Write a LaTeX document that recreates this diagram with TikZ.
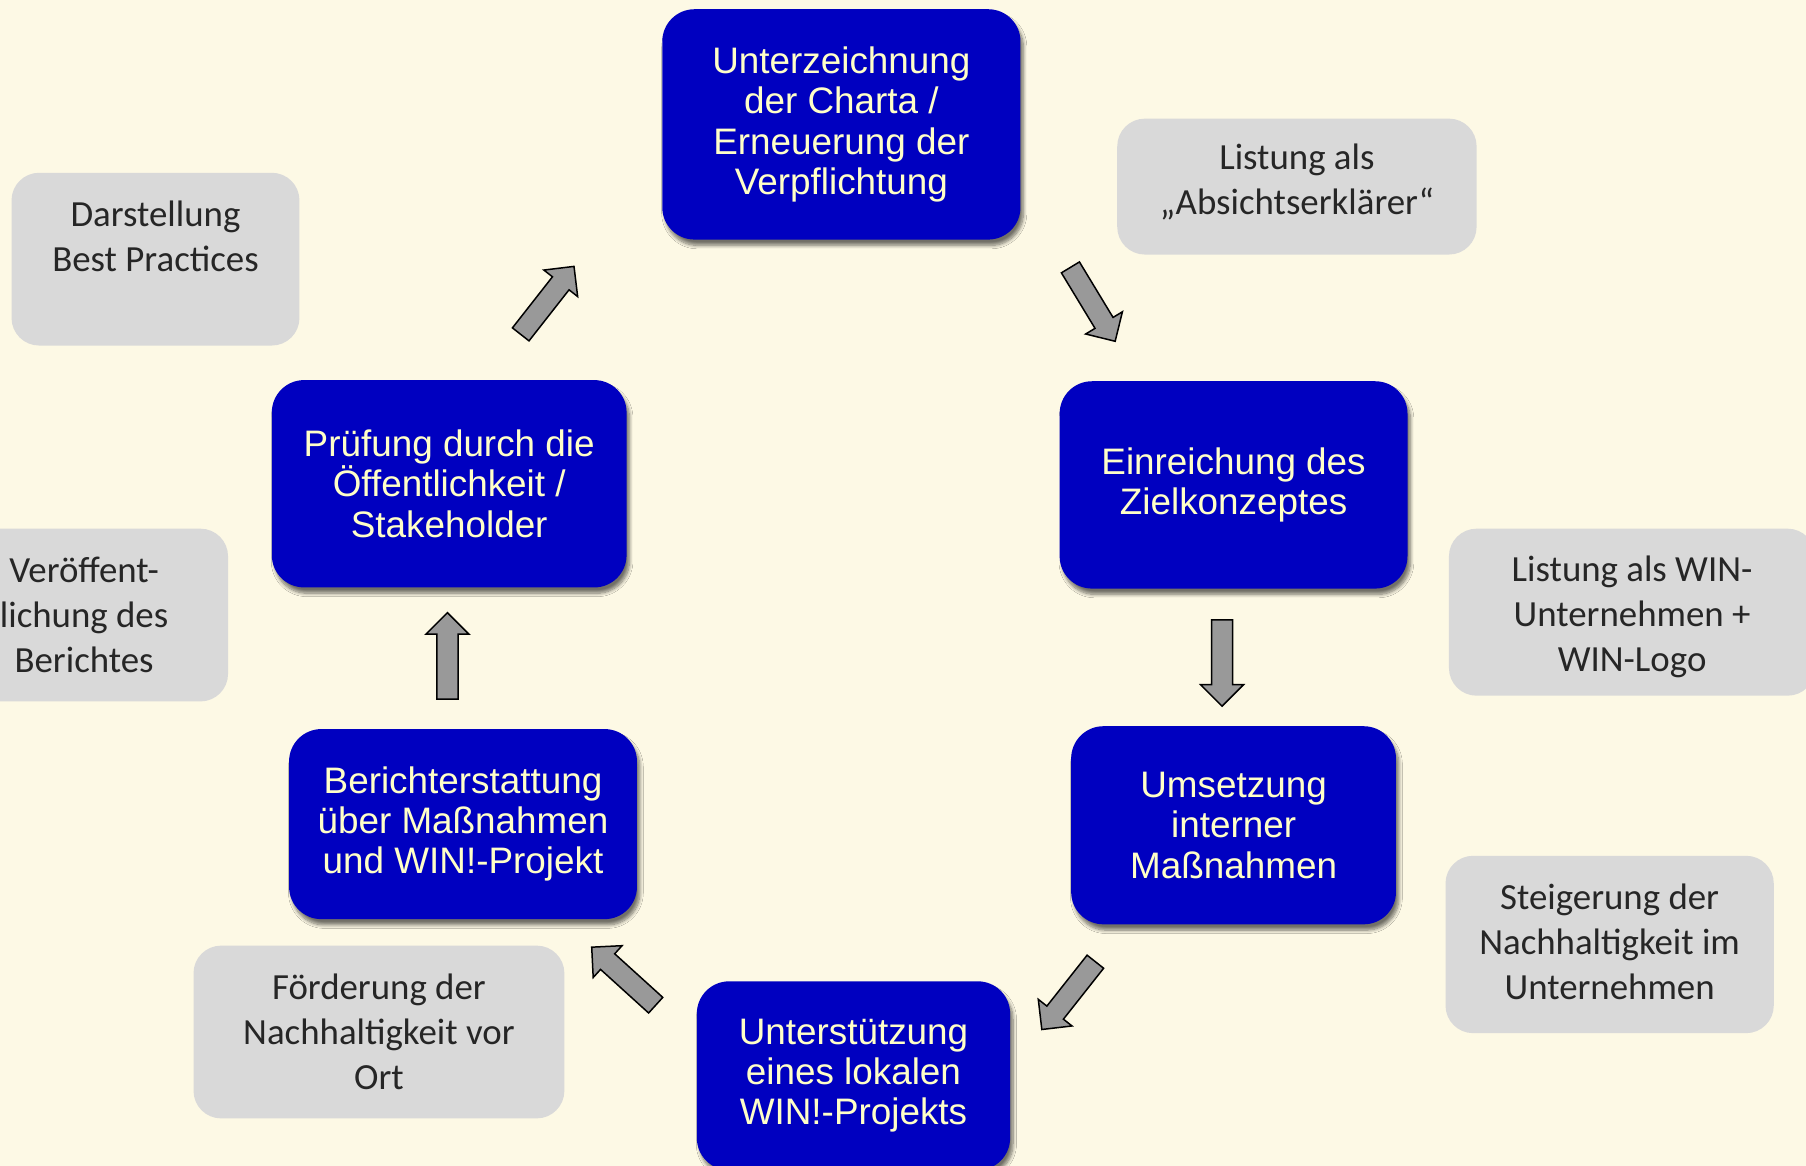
\documentclass[tikz,border=0pt]{standalone}
\usepackage{fontspec}
\setmainfont{Liberation Sans}
\newfontfamily\calibrifont{Carlito}
\usetikzlibrary{shapes.arrows,shadows.blur}
\definecolor{bgcream}{RGB}{253,249,229}
\definecolor{boxblue}{RGB}{0,0,192}
\definecolor{boxtext}{RGB}{255,255,200}
\definecolor{boxgray}{RGB}{217,217,217}
\definecolor{graytext}{RGB}{38,38,38}
\definecolor{arrowgray}{RGB}{153,153,153}
\tikzset{
  bluebox/.style={rectangle, rounded corners=28pt, fill=boxblue, text=boxtext,
    font=\fontsize{32}{35}\selectfont, align=center, inner sep=0pt,
    blur shadow={shadow xshift=2.5pt, shadow yshift=-5pt, shadow blur radius=3pt,
      shadow opacity=55, shadow blur steps=8}},
  graybox/.style={rectangle, rounded corners=24pt, fill=boxgray, draw=none, inner sep=0pt},
  graylabel/.style={text=graytext, font=\calibrifont\fontsize{32}{39}\selectfont, align=center, inner sep=0pt},
  blockarrow/.style={single arrow, draw=black, fill=arrowgray, line width=1.3pt,
    minimum height=75pt, inner xsep=0pt, inner ysep=8.5pt, text height=0pt, text depth=0pt,
    single arrow head extend=9.5pt, single arrow tip angle=90}
}
\begin{document}
\begin{tikzpicture}[x=1pt,y=-1pt]
\useasboundingbox (0,0) rectangle (1568,1012);
\fill[bgcream] (0,0) rectangle (1568,1012);

% gray side boxes
\node[graybox, minimum width=250pt, minimum height=150pt] (darst) at (135,225) {};
\node[graylabel] (darstT) at (135,205) {Darstellung\\Best Practices};
\node[graybox, minimum width=312pt, minimum height=118pt] (listung) at (1126,162) {};
\node[graylabel] (listungT) at (1126,158) {Listung als\\„Absichtserklärer“};
\node[graybox, minimum width=250pt, minimum height=150pt] (veroeff) at (73,534) {};
\node[graylabel] (veroeffT) at (73,534) {Veröffent-\\lichung des\\Berichtes};
\node[graybox, minimum width=318pt, minimum height=145pt] (listwin) at (1417,531.5) {};
\node[graylabel] (listwinT) at (1417,535.5) {Listung als WIN-\\Unternehmen +\\WIN-Logo};
\node[graybox, minimum width=285pt, minimum height=154pt] (steig) at (1397.5,820) {};
\node[graylabel] (steigT) at (1397.5,818) {Steigerung der\\Nachhaltigkeit im\\Unternehmen};
\node[graybox, minimum width=322pt, minimum height=150pt] (foerd) at (329,896) {};
\node[graylabel] (foerdT) at (329,896) {Förderung der\\Nachhaltigkeit vor\\Ort};

% blue process boxes
\node[bluebox, minimum width=311pt, minimum height=200pt] (unterz) at (730.5,108) {Unterzeichnung\\der Charta /\\Erneuerung der\\Verpflichtung};
\node[bluebox, minimum width=302pt, minimum height=180pt] (einr) at (1071,421) {Einreichung des\\Zielkonzeptes};
\node[bluebox, minimum width=282pt, minimum height=172pt] (ums) at (1071,716.5) {Umsetzung\\interner\\Maßnahmen};
\node[bluebox, minimum width=272pt, minimum height=164pt] (unterst) at (741,934) {Unterstützung\\eines lokalen\\WIN!-Projekts};
\node[bluebox, minimum width=302pt, minimum height=165pt] (ber) at (402,715.5) {Berichterstattung\\über Maßnahmen\\und WIN!-Projekt};
\node[bluebox, minimum width=308pt, minimum height=180pt] (pruef) at (390,420) {Prüfung durch die\\Öffentlichkeit /\\Stakeholder};

% block arrows
\node[blockarrow, rotate=51.9] (a1) at (472.4,264.4) {};
\node[blockarrow, rotate=-58.8] (a2) at (946.4,260.3) {};
\node[blockarrow, rotate=-90] (a3) at (1061,571) {};
\node[blockarrow, rotate=-128.3] (a4) at (930.6,860.8) {};
\node[blockarrow, rotate=137.8] (a5) at (544.9,850.6) {};
\node[blockarrow, rotate=90] (a6) at (388.5,574) {};
\end{tikzpicture}
\end{document}
